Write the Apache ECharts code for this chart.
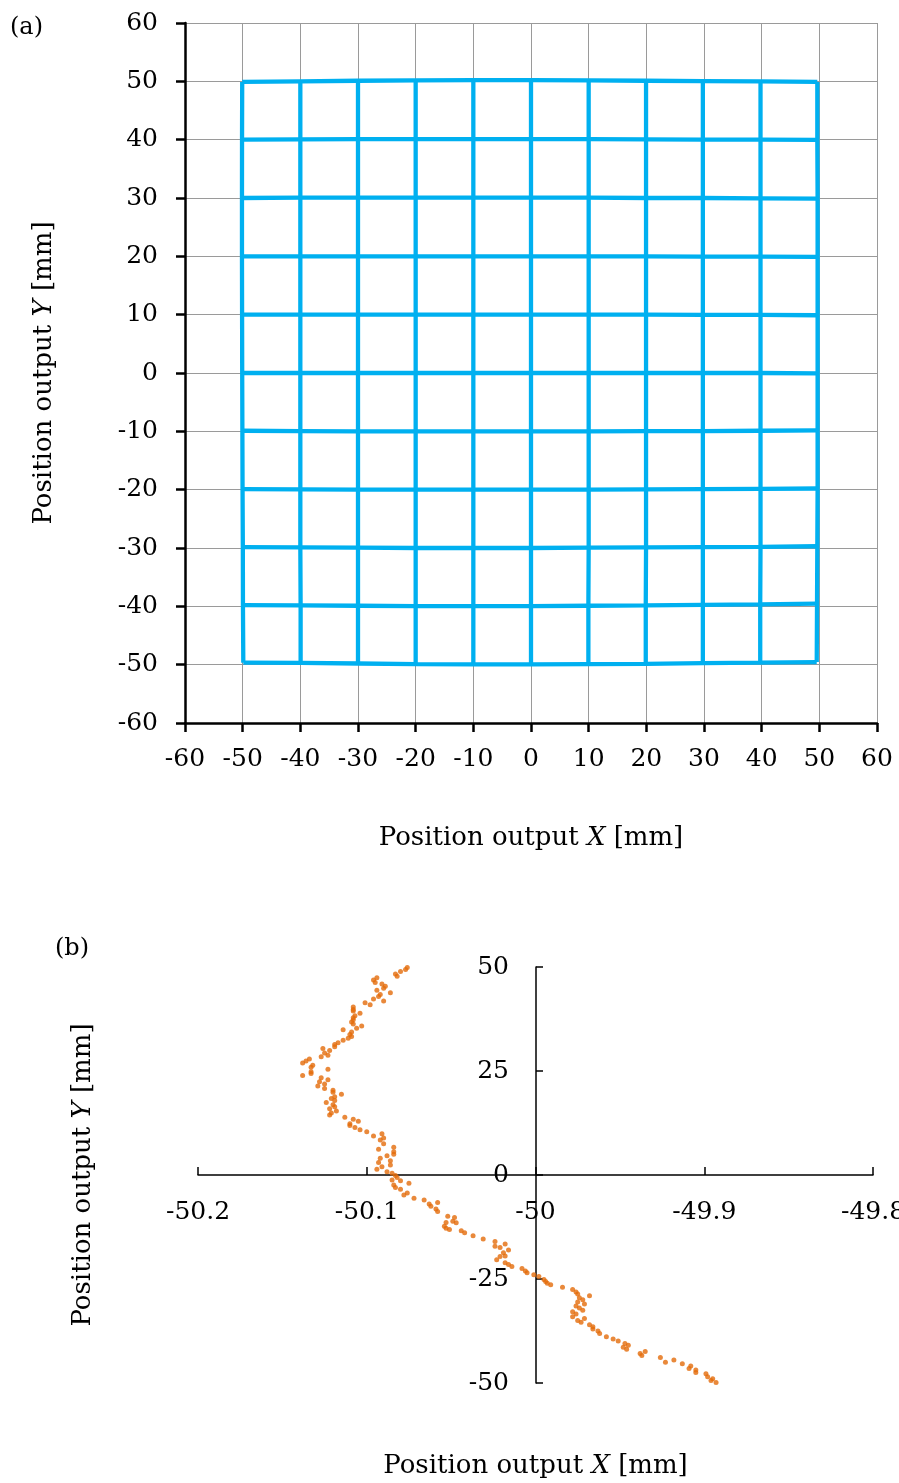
<!DOCTYPE html>
<html>
<head>
<meta charset="utf-8">
<script src="https://cdn.jsdelivr.net/npm/echarts@6/dist/echarts.min.js"></script>
<style>
html,body{margin:0;padding:0;background:#fff;}
#chart{width:899px;height:1483px;}
</style>
</head>
<body>
<div id="chart"></div>
<script>
// ---------- Chart (a): measured grid nodes ----------
// rows: nominal Y = 50, 40, ..., -50 ; columns: nominal X = -50, -40, ..., 50
const nodeX = [
  [-50.08, -40.00, -30.00, -20.00, -10.00, 0.00, 10.00, 19.95, 29.80, 39.80, 49.65],
  [-50.11, -40.00, -30.00, -20.00, -10.00, 0.00, 10.00, 19.95, 29.80, 39.80, 49.65],
  [-50.12, -40.00, -30.00, -20.00, -10.00, 0.00, 10.00, 19.95, 29.80, 39.80, 49.70],
  [-50.12, -40.00, -30.00, -20.00, -10.00, 0.00, 10.00, 19.95, 29.80, 39.80, 49.70],
  [-50.10, -40.00, -30.00, -20.00, -10.00, 0.00, 10.00, 19.95, 29.80, 39.80, 49.70],
  [-50.08, -40.00, -30.00, -20.00, -10.00, 0.00, 10.00, 19.95, 29.80, 39.80, 49.70],
  [-50.05, -40.00, -30.00, -20.00, -10.00, 0.00, 10.00, 19.95, 29.80, 39.80, 49.70],
  [-50.02, -40.00, -30.00, -20.00, -10.00, 0.00, 10.00, 19.95, 29.80, 39.80, 49.70],
  [-49.97, -40.00, -30.00, -20.00, -10.00, 0.00, 10.00, 19.95, 29.80, 39.80, 49.65],
  [-49.95, -39.95, -30.00, -20.00, -10.00, 0.00, 9.95, 19.90, 29.80, 39.75, 49.60],
  [-49.89, -39.95, -30.00, -20.00, -10.00, 0.00, 9.95, 19.90, 29.80, 39.75, 49.55]
];
const nodeY = [
  [49.90, 50.00, 50.10, 50.15, 50.20, 50.20, 50.15, 50.10, 50.05, 50.00, 49.90],
  [40.00, 40.05, 40.10, 40.10, 40.10, 40.10, 40.10, 40.05, 40.00, 40.00, 39.95],
  [30.00, 30.05, 30.05, 30.05, 30.05, 30.05, 30.05, 30.00, 30.00, 29.95, 29.90],
  [20.00, 20.00, 20.00, 20.00, 20.00, 20.00, 20.00, 20.00, 19.95, 19.95, 19.90],
  [10.00, 10.00, 10.00, 10.00, 10.00, 10.00, 10.00, 10.00, 9.95, 9.95, 9.90],
  [0.00, 0.00, 0.00, 0.00, 0.00, 0.00, 0.00, 0.00, 0.00, 0.00, -0.05],
  [-9.90, -9.95, -10.00, -10.00, -10.00, -10.00, -10.00, -9.95, -9.95, -9.90, -9.85],
  [-19.90, -19.95, -20.00, -20.00, -20.00, -20.00, -20.00, -19.95, -19.90, -19.85, -19.80],
  [-29.85, -29.90, -29.95, -30.00, -30.00, -30.00, -29.95, -29.90, -29.85, -29.80, -29.70],
  [-39.80, -39.85, -39.90, -39.95, -39.95, -39.95, -39.90, -39.85, -39.75, -39.65, -39.55],
  [-49.65, -49.70, -49.80, -49.90, -49.95, -49.95, -49.90, -49.85, -49.75, -49.65, -49.55]
];

// ---------- Chart (b): left edge (X = -50 line) samples ----------
const xB = [
  -50.076,-50.077,-50.080,-50.083,-50.082,-50.094,-50.096,-50.095,-50.091,-50.089,
  -50.090,-50.094,-50.086,-50.092,-50.093,-50.096,-50.090,-50.101,-50.098,-50.108,
  -50.108,-50.108,-50.104,-50.107,-50.108,-50.108,-50.109,-50.108,-50.103,-50.106,
  -50.114,-50.109,-50.110,-50.109,-50.111,-50.114,-50.117,-50.119,-50.119,-50.126,
  -50.122,-50.125,-50.123,-50.127,-50.134,-50.136,-50.138,-50.132,-50.133,-50.123,
  -50.133,-50.133,-50.138,-50.127,-50.123,-50.128,-50.125,-50.129,-50.125,-50.120,
  -50.120,-50.115,-50.119,-50.121,-50.119,-50.124,-50.120,-50.119,-50.122,-50.118,
  -50.121,-50.122,-50.113,-50.108,-50.105,-50.110,-50.110,-50.107,-50.104,-50.100,
  -50.091,-50.096,-50.090,-50.092,
  -50.090,-50.084,-50.093,-50.084,-50.084,-50.088,-50.092,-50.086,-50.093,-50.086,
  -50.091,-50.094,-50.088,-50.085,-50.083,-50.082,-50.085,-50.080,-50.075,-50.084,
  -50.083,-50.080,-50.076,-50.078,-50.072,-50.066,-50.058,-50.063,-50.062,-50.059,
  -50.058,-50.052,-50.048,-50.049,-50.053,-50.047,-50.054,-50.053,-50.051,-50.044,
  -50.042,-50.037,-50.031,
  -50.024,-50.018,-50.024,-50.021,-50.016,-50.019,-50.018,-50.021,-50.023,-50.018,
  -50.016,-50.014,-50.008,-50.006,-50.005,-50.001,-49.998,-49.995,-49.994,-49.993,
  -49.991,-49.984,-49.978,-49.976,-49.975,-49.968,-49.974,-49.972,-49.975,-49.971,
  -49.976,-49.974,-49.972,-49.978,-49.976,-49.978,-49.971,-49.975,-49.973,-49.968,
  -49.966,-49.966,-49.963,
  -49.962,-49.958,-49.954,-49.951,-49.947,-49.945,-49.948,-49.946,-49.935,-49.938,
  -49.937,-49.926,-49.918,-49.923,-49.913,-49.908,-49.909,-49.905,-49.905,-49.899,
  -49.898,-49.895,-49.896,-49.893
];
const yB = [
  49.9,49.4,48.9,48.3,47.8,47.4,46.9,46.3,45.9,45.4,
  44.9,44.4,43.8,43.4,42.9,42.3,41.8,41.4,40.9,40.4,
  39.8,39.4,38.9,38.3,37.8,37.3,36.8,36.3,35.8,35.3,
  34.9,34.4,33.8,33.3,32.9,32.4,31.8,31.4,30.8,30.4,
  29.9,29.3,28.8,28.4,27.9,27.4,26.9,26.4,25.9,25.4,
  24.8,24.4,23.9,23.4,22.9,22.4,21.9,21.4,20.8,20.4,
  19.9,19.4,18.8,18.4,17.9,17.4,16.9,16.4,15.9,15.4,
  14.9,14.4,13.9,13.4,12.9,12.3,11.9,11.4,10.9,10.4,
  9.9,9.4,8.9,8.4,
  7.5,6.7,6.2,5.6,5.0,4.6,4.0,3.4,3.0,2.4,
  2.0,1.4,0.8,0.4,-0.1,-0.6,-1.2,-1.4,-2.0,-2.4,
  -3.0,-3.4,-4.3,-4.8,-5.6,-6.0,-6.6,-7.0,-7.5,-8.2,
  -8.8,-9.9,-10.2,-11.1,-11.4,-11.5,-12.3,-12.8,-13.1,-13.4,
  -13.9,-14.6,-15.4,
  -16.0,-16.6,-17.1,-17.4,-18.0,-18.7,-19.5,-19.6,-20.4,-21.1,
  -21.5,-22.0,-22.5,-23.1,-23.5,-24.0,-24.4,-25.1,-25.6,-26.0,
  -26.4,-27.0,-27.5,-28.1,-28.6,-29.0,-29.5,-30.0,-30.5,-31.0,
  -31.5,-32.0,-32.5,-32.9,-33.4,-34.1,-34.5,-35.0,-35.4,-36.0,
  -36.5,-37.0,-37.5,
  -38.1,-38.9,-39.4,-39.9,-40.5,-40.9,-41.4,-41.9,-42.4,-42.9,
  -43.4,-43.9,-44.5,-45.0,-45.4,-45.9,-46.5,-46.9,-47.5,-47.8,
  -48.5,-49.0,-49.4,-49.9
];

const FONT = 'DejaVu Serif';
const BLUE = '#00B0F0';
const ORANGE = '#E46C0A';

function axisName(letter) {
  return '{r|Position output }{i|' + letter + '}{r| [mm]}';
}
const nameStyle = {
  color: '#000',
  rich: {
    r: {fontFamily: FONT, fontSize: 26, color: '#000'},
    i: {fontFamily: FONT, fontSize: 26, fontStyle: 'italic', color: '#000'}
  }
};

const seriesA = [];
for (let i = 0; i < nodeX.length; i++) {
  seriesA.push({
    type: 'line', xAxisIndex: 0, yAxisIndex: 0, symbol: 'none', silent: true,
    lineStyle: {color: BLUE, width: 4.3}, itemStyle: {color: BLUE},
    data: nodeX[i].map((x, j) => [x, nodeY[i][j]])
  });
}
for (let j = 0; j < nodeX[0].length; j++) {
  seriesA.push({
    type: 'line', xAxisIndex: 0, yAxisIndex: 0, symbol: 'none', silent: true,
    lineStyle: {color: BLUE, width: 4.3}, itemStyle: {color: BLUE},
    data: nodeX.map((row, i) => [row[j], nodeY[i][j]])
  });
}

const chart = echarts.init(document.getElementById('chart'), null, {renderer: 'canvas'});
chart.setOption({
  animation: false,
  backgroundColor: '#fff',
  graphic: [
    {type: 'text', left: 10, top: 16, style: {text: '(a)', font: '24px "DejaVu Serif"', fill: '#000'}},
    {type: 'text', left: 55, top: 937, style: {text: '(b)', font: '24px "DejaVu Serif"', fill: '#000'}}
  ],
  grid: [
    {left: 185, top: 23, width: 692, height: 700, containLabel: false, outerBoundsMode: 'none'},
    {left: 198, top: 967, width: 675, height: 416, containLabel: false, outerBoundsMode: 'none'}
  ],
  xAxis: [
    {
      gridIndex: 0, type: 'value', min: -60, max: 60, interval: 10,
      axisLine: {onZero: false, lineStyle: {color: '#000', width: 2.5}},
      axisTick: {length: 9, lineStyle: {color: '#000', width: 2.5}},
      axisLabel: {margin: 24, fontFamily: FONT, fontSize: 25, color: '#000'},
      splitLine: {show: true, lineStyle: {color: '#9a9a9a', width: 1}},
      name: axisName('X'), nameLocation: 'middle', nameGap: 102, nameTextStyle: nameStyle
    },
    {
      gridIndex: 1, type: 'value', min: -50.2, max: -49.8, interval: 0.1,
      position: 'bottom', offset: -208,
      axisLine: {onZero: false, lineStyle: {color: '#000', width: 1.5}},
      axisTick: {inside: true, length: 8, lineStyle: {color: '#000', width: 1.5}},
      axisLabel: {margin: 25, fontFamily: FONT, fontSize: 25, color: '#000'},
      splitLine: {show: false},
      name: axisName('X'), nameLocation: 'middle', nameGap: 278, nameTextStyle: nameStyle
    }
  ],
  yAxis: [
    {
      gridIndex: 0, type: 'value', min: -60, max: 60, interval: 10,
      axisLine: {onZero: false, lineStyle: {color: '#000', width: 2.5}},
      axisTick: {length: 9, lineStyle: {color: '#000', width: 2.5}},
      axisLabel: {margin: 27, fontFamily: FONT, fontSize: 25, color: '#000'},
      splitLine: {show: true, lineStyle: {color: '#9a9a9a', width: 1}},
      name: axisName('Y'), nameLocation: 'middle', nameGap: 128, nameTextStyle: nameStyle
    },
    {
      gridIndex: 1, type: 'value', min: -50, max: 50, interval: 25,
      position: 'left', offset: -338,
      axisLine: {onZero: false, lineStyle: {color: '#000', width: 1.5}},
      axisTick: {inside: true, length: 7, lineStyle: {color: '#000', width: 1.5}},
      axisLabel: {margin: 27, fontFamily: FONT, fontSize: 25, color: '#000'},
      splitLine: {show: false},
      name: axisName('Y'), nameLocation: 'middle', nameGap: 440, nameTextStyle: nameStyle
    }
  ],
  series: seriesA.concat([
    {
      type: 'scatter', xAxisIndex: 1, yAxisIndex: 1, symbol: 'circle', symbolSize: 5, silent: true,
      itemStyle: {color: ORANGE},
      data: xB.map((x, k) => [x, yB[k]])
    }
  ])
});
</script>
</body>
</html>
